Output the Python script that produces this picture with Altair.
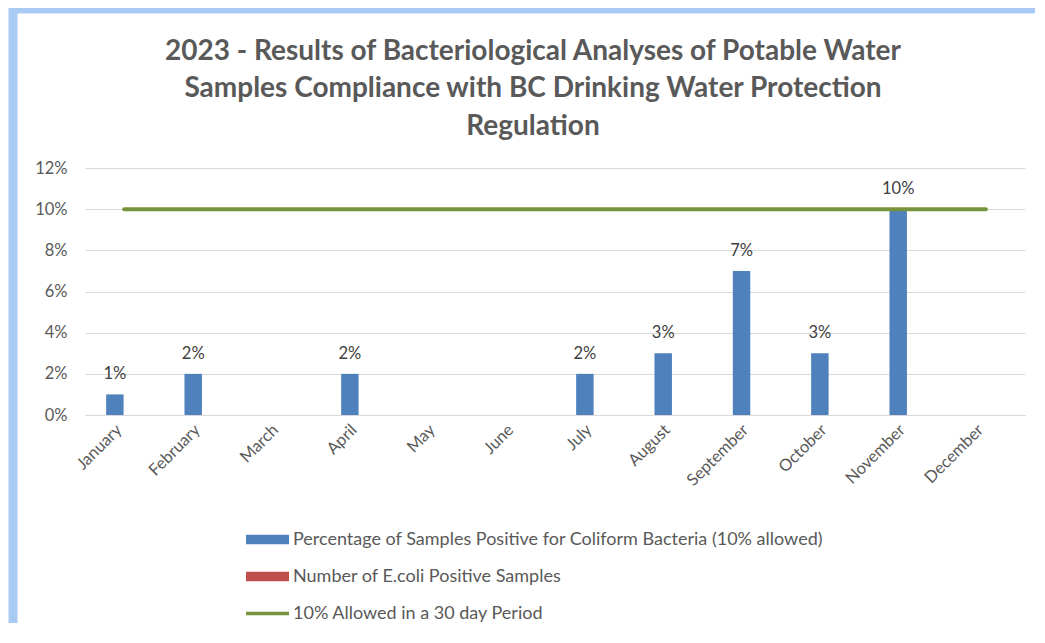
import altair as alt
import pandas as pd

months = ["January", "February", "March", "April", "May", "June",
          "July", "August", "September", "October", "November", "December"]
coliform_pct = [0.01, 0.02, 0.0, 0.02, 0.0, 0.0, 0.02, 0.03, 0.07, 0.03, 0.10, 0.0]
ecoli_count = [0, 0, 0, 0, 0, 0, 0, 0, 0, 0, 0, 0]
allowed_pct = [0.10, 0.10, 0.10, 0.10, 0.10, 0.10, 0.10, 0.10, 0.10, 0.10, 0.10, 0.10]
series_names = [
    "Percentage of Samples Positive for Coliform Bacteria (10% allowed)",
    "Number of E.coli Positive Samples",
    "10% Allowed in a 30 day Period",
]
series_colors = ["#4f81bd", "#c0504d", "#77933c"]
y_ticks = [0.0, 0.02, 0.04, 0.06, 0.08, 0.10, 0.12]
title_lines = [
    "2023 - Results of Bacteriological Analyses of Potable Water",
    "Samples Compliance with BC Drinking Water Protection",
    "Regulation",
]

FONT = "Lato"
TEXT_COLOR = "#595959"

bars_df = pd.DataFrame({
    "month": months + months,
    "series": [series_names[0]] * len(months) + [series_names[1]] * len(months),
    "value": coliform_pct + ecoli_count,
})
labels_df = pd.DataFrame({
    "month": months,
    "series": [series_names[0]] * len(months),
    "value": coliform_pct,
})
line_df = pd.DataFrame({"month": months, "value": allowed_pct})
legend_df = pd.DataFrame({"series": series_names})
frame_df = pd.DataFrame({"k": [0]})

x_enc = alt.X(
    "month:N", sort=months, title=None,
    scale=alt.Scale(paddingInner=0.54, paddingOuter=0.27),
    axis=alt.Axis(labelAngle=-45, labelAlign="right", labelBaseline="middle",
                  labelPadding=12, labelOffset=-5, ticks=False, domainColor="#d9d9d9",
                  labelFontSize=16.5, labelColor=TEXT_COLOR, labelFont=FONT),
)
y_enc = alt.Y(
    "value:Q", title=None,
    scale=alt.Scale(domain=[0, 0.12], nice=False),
    axis=alt.Axis(format=".0%", values=y_ticks, grid=True, gridColor="#d9d9d9",
                  domain=False, ticks=False, labelPadding=18, labelFontSize=16.5,
                  labelColor=TEXT_COLOR, labelFont=FONT),
)
xoff = alt.XOffset("series:N", scale=alt.Scale(domain=series_names[:2], paddingInner=0.06))

frame = alt.Chart(frame_df).mark_rect(fill="transparent", stroke="#a9cbf3", strokeWidth=9).encode(
    x=alt.value(-72), x2=alt.value(1100), y=alt.value(-159), y2=alt.value(600)
)

bars = alt.Chart(bars_df).mark_bar(color=series_colors[0]).encode(
    x=x_enc, y=y_enc, xOffset=xoff
)

line = alt.Chart(line_df).mark_line(color=series_colors[2], strokeWidth=4, strokeCap="round").encode(
    x=alt.X("month:N", sort=months), y="value:Q"
)

labels = alt.Chart(labels_df).transform_filter("datum.value > 0").mark_text(
    fontSize=16.5, color="#404040", font=FONT, baseline="middle", dy=-20
).encode(
    x=alt.X("month:N", sort=months), y="value:Q", xOffset=xoff,
    text=alt.Text("value:Q", format=".0%"),
)

legend_props = dict(
    title=None, orient="none", legendX=161, legendY=350, direction="vertical",
    symbolSize=1849, symbolStrokeWidth=0, symbolOpacity=1, labelFontSize=18,
    labelColor=TEXT_COLOR, labelFont=FONT, labelOffset=4, rowPadding=6,
    labelLimit=800, padding=0,
)
shape_paths = [
    "M-1,-0.22L1,-0.22L1,0.22L-1,0.22Z",
    "M-1,-0.22L1,-0.22L1,0.22L-1,0.22Z",
    "M-1,-0.085L1,-0.085L1,0.085L-1,0.085Z",
]
legend_layer = alt.Chart(legend_df).mark_point(filled=True, opacity=0).encode(
    x=alt.value(0), y=alt.value(0),
    color=alt.Color("series:N", scale=alt.Scale(domain=series_names, range=series_colors),
                    legend=alt.Legend(**legend_props)),
    shape=alt.Shape("series:N", scale=alt.Scale(domain=series_names, range=shape_paths),
                    legend=alt.Legend(**legend_props)),
)

chart = alt.layer(frame, bars, line, labels, legend_layer).properties(
    width=940, height=247,
    background="white",
    autosize=alt.AutoSizeParams(type="none"),
    padding={"left": 77, "top": 160, "right": 10, "bottom": 208},
    title=alt.TitleParams(
        text=title_lines, fontSize=28, font=FONT, fontWeight="bold", color=TEXT_COLOR,
        anchor="middle", frame="group", dx=-22, offset=-136, lineHeight=37.5,
    ),
).configure_view(stroke=None)

chart.save("out.html", embed_options={"renderer": "svg", "actions": False})
